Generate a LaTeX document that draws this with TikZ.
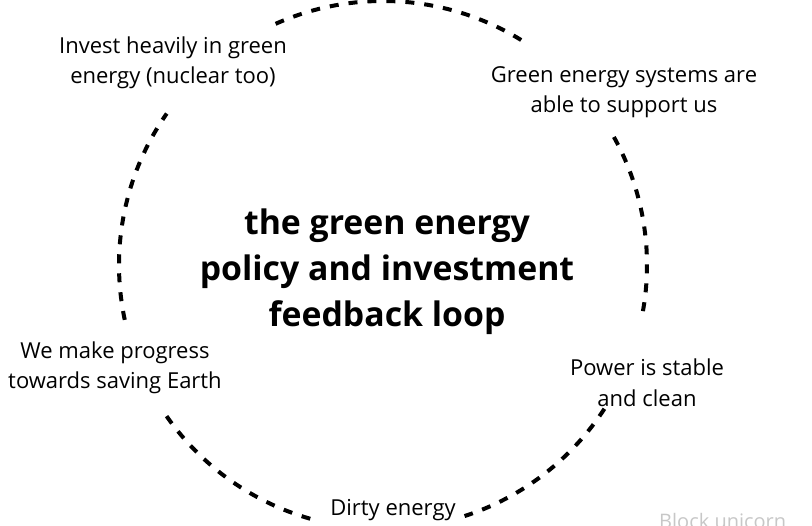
\documentclass[tikz,border=0pt]{standalone}
\usepackage{fontspec}
\setmainfont{Open Sans}
\begin{document}
\begin{tikzpicture}[x=1pt,y=1pt,
  lbl/.style={align=center,font=\fontsize{22}{30.5}\selectfont,inner sep=0pt},
  ttl/.style={align=center,font=\fontsize{33.8}{46}\selectfont\bfseries,inner sep=0pt},
  loop/.style={line width=4pt,dash pattern=on 9pt off 10pt}]
\useasboundingbox (0,0) rectangle (812,526);
\coordinate (c) at (383,261);
\node[lbl] (invest) at (173,463) {Invest heavily in green\\energy (nuclear too)};
\node[lbl] (green) at (624,434) {Green energy systems are\\able to support us};
\node[ttl] (title) at (387,254) {the green energy\\policy and investment\\feedback loop};
\node[lbl] (earth) at (115,158) {We make progress\\towards saving Earth};
\node[lbl] (power) at (647,143) {Power is stable\\and clean};
\node[lbl] (dirty) at (393,16) {Dirty energy};
\node[anchor=base west,inner sep=0pt,text=black!22,font=\fontsize{20}{24}\selectfont] (wm) at (659,-3) {Block unicorn};
\draw[loop] ([shift={(c)}]114:264pt) arc[start angle=114,end angle=57,radius=264pt];
\draw[loop] ([shift={(c)}]29:264pt) arc[start angle=29,end angle=-12,radius=264pt];
\draw[loop] ([shift={(c)}]-33:264pt) arc[start angle=-33,end angle=-72,radius=264pt];
\draw[loop] ([shift={(c)}]254:264pt) arc[start angle=254,end angle=213,radius=264pt];
\draw[loop] ([shift={(c)}]192:264pt) arc[start angle=192,end angle=145,radius=264pt];
\end{tikzpicture}
\end{document}
